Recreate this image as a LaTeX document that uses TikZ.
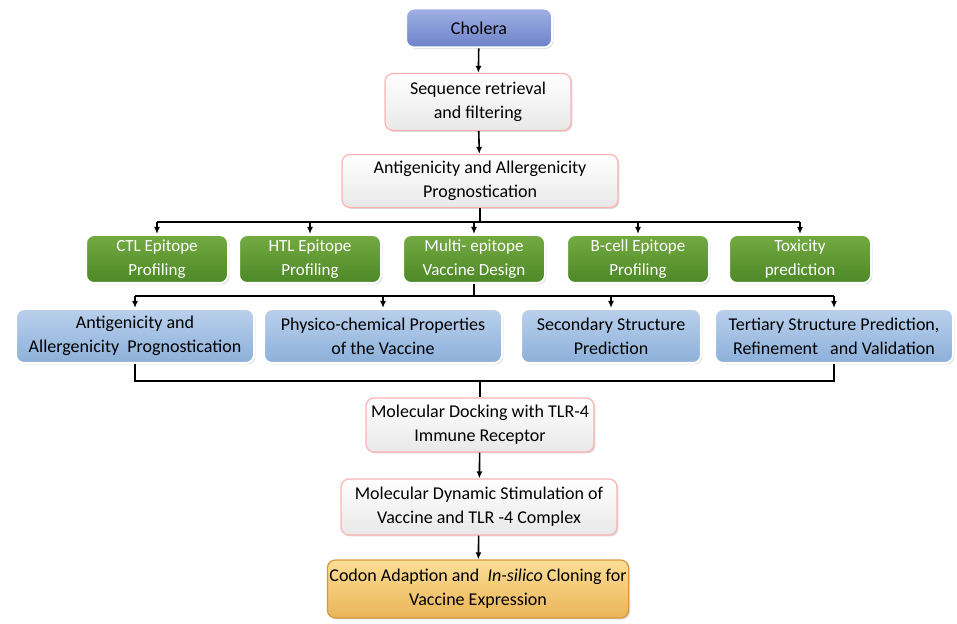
\documentclass[tikz,border=0pt]{standalone}
\usepackage{fontspec}
\setmainfont{Carlito}
\usetikzlibrary{arrows.meta}
\usetikzlibrary{shadows, calc, positioning}
\definecolor{chtop}{RGB}{160,176,228}
\definecolor{chbot}{RGB}{108,130,200}
\definecolor{grtop}{RGB}{116,170,66}
\definecolor{grbot}{RGB}{76,136,38}
\definecolor{bltop}{RGB}{186,208,236}
\definecolor{blbot}{RGB}{140,176,218}
\definecolor{ortop}{RGB}{252,222,150}
\definecolor{orbot}{RGB}{234,180,88}
\definecolor{ordraw}{RGB}{214,150,60}
\tikzset{
    box/.style={
        rounded corners=4pt, align=center, inner sep=1pt,
        font=\fontsize{9}{12}\selectfont,
        drop shadow={opacity=0.3, shadow xshift=0.7pt, shadow yshift=-0.7pt}
    },
    whitebox/.style={box, draw=red!30, line width=0.6pt, top color=white, bottom color=black!9},
    topbox/.style={box, draw=white, line width=1pt, top color=chtop, bottom color=chbot},
    greenbox/.style={box, draw=white, line width=1pt, top color=grtop, bottom color=grbot,
        text=white, font=\fontsize{8.5}{12}\selectfont, minimum width=71pt, minimum height=24pt},
    bluebox/.style={box, draw=white, line width=1pt, top color=bltop, bottom color=blbot,
        minimum height=27pt},
    orangebox/.style={box, draw=ordraw, line width=0.6pt, top color=ortop, bottom color=orbot},
    arr/.style={-{Latex[length=3.5pt,width=3pt]}, line width=0.8pt},
    link/.style={line width=0.8pt}
}
\begin{document}
\begin{tikzpicture}[x=0.5pt,y=-0.5pt]
    \useasboundingbox (0,0) rectangle (957,624);
    % main column
    \node[topbox, minimum width=73pt, minimum height=19.5pt] (cholera) at (479,28) {Cholera};
    \node[whitebox, minimum width=93pt, minimum height=28.5pt] (seqret) at (478,102) {Sequence retrieval\\and filtering};
    \node[whitebox, minimum width=138pt, minimum height=26.5pt] (antall) at (480,181) {Antigenicity and Allergenicity\\Prognostication};
    % profiling row
    \node[greenbox] (ctl) at (157,259) {CTL Epitope\\Profiling};
    \node[greenbox] (htl) at (310,259) {HTL Epitope\\Profiling};
    \node[greenbox] (multi) at (474,259) {Multi- epitope\\Vaccine Design};
    \node[greenbox] (bcell) at (638,259) {B-cell Epitope\\Profiling};
    \node[greenbox] (tox) at (800,259) {Toxicity\\prediction};
    % vaccine analysis row
    \node[bluebox, minimum width=119pt] (antall2) at (135,336) {Antigenicity and\\Allergenicity~ Prognostication};
    \node[bluebox, minimum width=119pt] (physchem) at (383,336) {Physico-chemical Properties\\of the Vaccine};
    \node[bluebox, minimum width=90pt] (secstr) at (611,336) {Secondary Structure\\Prediction};
    \node[bluebox, minimum width=119pt] (terstr) at (834,336) {Tertiary Structure Prediction,\\Refinement~~ and Validation};
    % lower column
    \node[whitebox, minimum width=114pt, minimum height=27pt] (docking) at (480,425) {Molecular Docking with TLR-4\\Immune Receptor};
    \node[whitebox, minimum width=138pt, minimum height=28pt] (mdsim) at (479,507) {Molecular Dynamic Stimulation of\\Vaccine and TLR -4 Complex};
    \node[orangebox, minimum width=148pt, minimum height=29pt] (codon) at (478,589) {Codon Adaption and~ \textit{In-silico} Cloning for\\Vaccine Expression};
    \coordinate (fk1) at (480,222);
    \coordinate (fk2) at (474,296);
    \coordinate (fk3) at (480,381);
    \draw[arr] (cholera) -- (seqret);
    \draw[arr] (seqret) -- (antall);
    \draw[link] (antall.south) -- (fk1);
    \draw[link] (ctl.north |- fk1) -- (tox.north |- fk1);
    \foreach \n in {ctl,htl,multi,bcell,tox}
        \draw[arr] (\n.north |- fk1) -- (\n.north);
    \draw[link] (multi.south) -- (fk2);
    \draw[link] (antall2.north |- fk2) -- (terstr.north |- fk2);
    \foreach \n in {antall2,physchem,secstr,terstr}
        \draw[arr] (\n.north |- fk2) -- (\n.north);
    \draw[link] (antall2.south) -- (antall2.south |- fk3) -- (terstr.south |- fk3) -- (terstr.south);
    \draw[link] (docking.north |- fk3) -- (docking.north);
    \draw[arr] (docking) -- (mdsim);
    \draw[arr] (mdsim) -- (codon);
\end{tikzpicture}
\end{document}
